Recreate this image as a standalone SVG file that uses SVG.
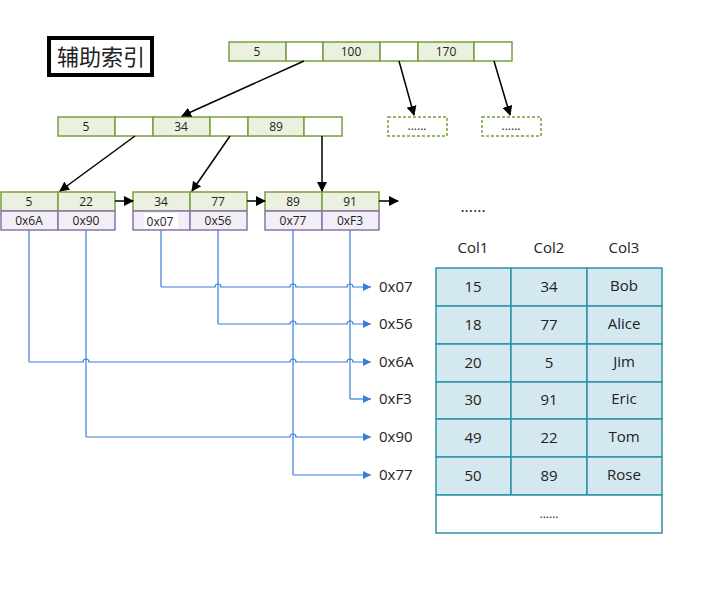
<svg xmlns="http://www.w3.org/2000/svg" width="726" height="606" viewBox="0 0 726 606">
<style>
text{font-family:"Open Sans","Noto Sans","Noto Sans CJK SC",sans-serif;fill:#222}
.k{fill:#ebf1de;stroke:#77a03f;stroke-width:1.5}
.e{fill:#fff;stroke:#77a03f;stroke-width:1.5}
.p{fill:#f2eef6;stroke:#8e72b0;stroke-width:1.5}
.d{fill:#fff;stroke:#77a03f;stroke-width:1.5;stroke-dasharray:3 2}
.s{font-size:12px;text-anchor:middle}
.c{fill:#d3e9ef;stroke:#2e93a8;stroke-width:1.5}
.t{font-size:15px;text-anchor:middle}
.a{stroke:#000;stroke-width:1.5;fill:none;marker-end:url(#ba)}
.b{stroke:#3b7dd8;stroke-width:1.2;fill:none}
.bm{marker-end:url(#bb)}
</style>
<defs>
<marker id="ba" markerWidth="10" markerHeight="10" refX="9" refY="5" orient="auto" markerUnits="userSpaceOnUse"><path d="M0,0L10,5L0,10z" fill="#000"/></marker>
<marker id="bb" markerWidth="8" markerHeight="8" refX="8" refY="4" orient="auto" markerUnits="userSpaceOnUse"><path d="M0,0L8,4L0,8z" fill="#3b7dd8"/></marker>
</defs>
<rect width="726" height="606" fill="#fff"/>
<g id="title"><rect x="49" y="38" width="103" height="37" fill="#fff" stroke="#000" stroke-width="4"/><text x="101" y="65" font-size="22" text-anchor="middle">辅助索引</text></g>
<g id="root">
<rect class="k" x="229" y="42" width="57" height="19"/><rect class="e" x="286" y="42" width="37" height="19"/><rect class="k" x="323" y="42" width="57" height="19"/><rect class="e" x="380" y="42" width="38" height="19"/><rect class="k" x="418" y="42" width="56" height="19"/><rect class="e" x="474" y="42" width="38" height="19"/>
<text class="s" x="257" y="56">5</text><text class="s" x="351" y="56">100</text><text class="s" x="446" y="56">170</text></g>
<g id="mid">
<rect class="k" x="58" y="117" width="57" height="19"/><rect class="e" x="115" y="117" width="38" height="19"/><rect class="k" x="153" y="117" width="57" height="19"/><rect class="e" x="210" y="117" width="38" height="19"/><rect class="k" x="248" y="117" width="56" height="19"/><rect class="e" x="304" y="117" width="38" height="19"/>
<text class="s" x="86" y="131">5</text><text class="s" x="181" y="131">34</text><text class="s" x="276" y="131">89</text></g>
<g id="dash1"><rect class="d" x="388" y="117" width="59" height="19"/><text class="s" x="417" y="130" font-size="10">......</text></g>
<g id="dash2"><rect class="d" x="482" y="117" width="59" height="19"/><text class="s" x="511" y="130" font-size="10">......</text></g>
<g id="leaf1"><rect class="k" x="1" y="192" width="57" height="19"/><rect class="k" x="58" y="192" width="57" height="19"/><rect class="p" x="1" y="211" width="57" height="19"/><rect class="p" x="58" y="211" width="57" height="19"/>
<text class="s" x="29" y="206">5</text><text class="s" x="86" y="206">22</text><text class="s" x="29" y="225">0x6A</text><text class="s" x="86" y="225">0x90</text></g>
<g id="leaf2"><rect class="k" x="133" y="192" width="57" height="19"/><rect class="k" x="190" y="192" width="57" height="19"/><rect class="p" x="133" y="211" width="57" height="19"/><rect class="p" x="190" y="211" width="57" height="19"/>
<rect x="144" y="213" width="34" height="16" fill="#fff"/>
<text class="s" x="161" y="206">34</text><text class="s" x="218" y="206">77</text><text class="s" x="160" y="226">0x07</text><text class="s" x="218" y="225">0x56</text></g>
<g id="leaf3"><rect class="k" x="265" y="192" width="57" height="19"/><rect class="k" x="322" y="192" width="57" height="19"/><rect class="p" x="265" y="211" width="57" height="19"/><rect class="p" x="322" y="211" width="57" height="19"/>
<text class="s" x="293" y="206">89</text><text class="s" x="350" y="206">91</text><text class="s" x="293" y="225">0x77</text><text class="s" x="350" y="225">0xF3</text></g>
<text x="473" y="212" font-size="16" text-anchor="middle">......</text>
<g id="connectors">
<path class="a" d="M304,61L182,116"/><path class="a" d="M399,61L414,115"/><path class="a" d="M494,61L510,115"/>
<path class="a" d="M135,136L60,191"/><path class="a" d="M230,136L192,191"/><path class="a" d="M322,136L322,191"/>
<path class="a" d="M115,201L133,201"/><path class="a" d="M247,201L265,201"/><path class="a" d="M379,201L398,201"/>
<path class="b" d="M29,230V362"/><path class="b" d="M86,230V437"/><path class="b" d="M161,230V287"/><path class="b" d="M218,230V324"/><path class="b" d="M293,230V475"/><path class="b" d="M350,230V399"/>
<path class="b bm" d="M161,287H215a3,3 0 0 1 6,0H290a3,3 0 0 1 6,0H347a3,3 0 0 1 6,0H371"/>
<path class="b bm" d="M218,324H290a3,3 0 0 1 6,0H347a3,3 0 0 1 6,0H371"/>
<path class="b bm" d="M29,362H83a3,3 0 0 1 6,0H290a3,3 0 0 1 6,0H347a3,3 0 0 1 6,0H371"/>
<path class="b bm" d="M350,399H371"/>
<path class="b bm" d="M86,437H290a3,3 0 0 1 6,0H371"/>
<path class="b bm" d="M293,475H371"/>
</g>
<g id="addrs" font-size="15">
<text x="379" y="292">0x07</text><text x="379" y="329">0x56</text><text x="379" y="367">0x6A</text><text x="379" y="404">0xF3</text><text x="379" y="442">0x90</text><text x="379" y="480">0x77</text></g>
<g id="table">
<text class="t" x="473" y="253">Col1</text><text class="t" x="549" y="253">Col2</text><text class="t" x="624" y="253">Col3</text>
<g>
<rect class="c" x="436" y="268" width="75" height="38"/><rect class="c" x="511" y="268" width="76" height="38"/><rect class="c" x="587" y="268" width="75" height="38"/>
<rect class="c" x="436" y="306" width="75" height="38"/><rect class="c" x="511" y="306" width="76" height="38"/><rect class="c" x="587" y="306" width="75" height="38"/>
<rect class="c" x="436" y="344" width="75" height="38"/><rect class="c" x="511" y="344" width="76" height="38"/><rect class="c" x="587" y="344" width="75" height="38"/>
<rect class="c" x="436" y="382" width="75" height="37"/><rect class="c" x="511" y="382" width="76" height="37"/><rect class="c" x="587" y="382" width="75" height="37"/>
<rect class="c" x="436" y="419" width="75" height="38"/><rect class="c" x="511" y="419" width="76" height="38"/><rect class="c" x="587" y="419" width="75" height="38"/>
<rect class="c" x="436" y="457" width="75" height="38"/><rect class="c" x="511" y="457" width="76" height="38"/><rect class="c" x="587" y="457" width="75" height="38"/>
<rect x="436" y="495" width="226" height="38" fill="#fff" stroke="#2e93a8" stroke-width="1.5"/>
</g>
<text class="t" x="473" y="292">15</text><text class="t" x="549" y="292">34</text><text class="t" x="624" y="291">Bob</text>
<text class="t" x="473" y="330">18</text><text class="t" x="549" y="330">77</text><text class="t" x="624" y="329">Alice</text>
<text class="t" x="473" y="368">20</text><text class="t" x="549" y="368">5</text><text class="t" x="624" y="367">Jim</text>
<text class="t" x="473" y="405">30</text><text class="t" x="549" y="405">91</text><text class="t" x="624" y="404">Eric</text>
<text class="t" x="473" y="443">49</text><text class="t" x="549" y="443">22</text><text class="t" x="624" y="442">Tom</text>
<text class="t" x="473" y="481">50</text><text class="t" x="549" y="481">89</text><text class="t" x="624" y="480">Rose</text>
<text class="s" x="549" y="518">......</text>
</g>
</svg>
